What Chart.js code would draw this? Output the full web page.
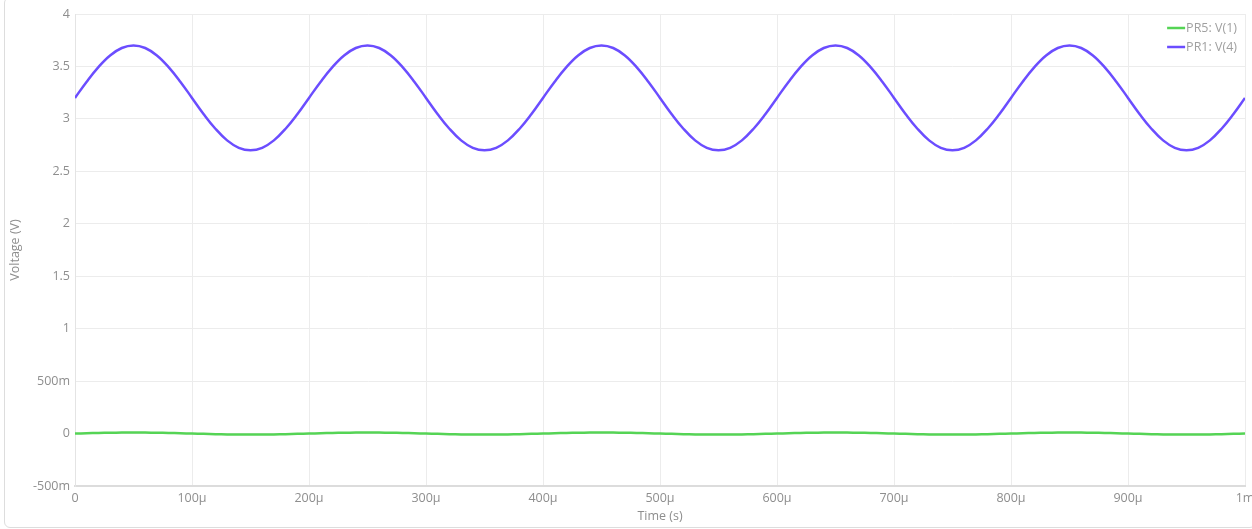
<!DOCTYPE html>
<html>
<head>
<meta charset="utf-8">
<script src="https://cdn.jsdelivr.net/npm/chart.js@4"></script>
<style>
  html, body { margin: 0; padding: 0; background: #fff; }
  #marco {
    position: absolute; left: 4px; top: -3px; width: 1252px; height: 531px;
    border: 1px solid #ddd; border-radius: 6px; box-sizing: border-box;
  }
  #lienzo { position: absolute; left: 0; top: 0; }
</style>
</head>
<body>
<div id="marco"></div>
<canvas id="lienzo" width="1252" height="529"></canvas>
<script>
// Tiempo en microsegundos
const tiempos = [0,10,20,30,40,50,60,70,80,90,100,110,120,130,140,150,160,170,180,190,
  200,210,220,230,240,250,260,270,280,290,300,310,320,330,340,350,360,370,380,390,
  400,410,420,430,440,450,460,470,480,490,500,510,520,530,540,550,560,570,580,590,
  600,610,620,630,640,650,660,670,680,690,700,710,720,730,740,750,760,770,780,790,
  800,810,820,830,840,850,860,870,880,890,900,910,920,930,940,950,960,970,980,990,1000];

// PR1: V(4)
const vPR1 = [3.2,3.355,3.494,3.605,3.676,3.7,3.676,3.605,3.494,3.355,3.2,3.045,2.906,2.795,2.724,2.7,2.724,2.795,2.906,3.045,
  3.2,3.355,3.494,3.605,3.676,3.7,3.676,3.605,3.494,3.355,3.2,3.045,2.906,2.795,2.724,2.7,2.724,2.795,2.906,3.045,
  3.2,3.355,3.494,3.605,3.676,3.7,3.676,3.605,3.494,3.355,3.2,3.045,2.906,2.795,2.724,2.7,2.724,2.795,2.906,3.045,
  3.2,3.355,3.494,3.605,3.676,3.7,3.676,3.605,3.494,3.355,3.2,3.045,2.906,2.795,2.724,2.7,2.724,2.795,2.906,3.045,
  3.2,3.355,3.494,3.605,3.676,3.7,3.676,3.605,3.494,3.355,3.2,3.045,2.906,2.795,2.724,2.7,2.724,2.795,2.906,3.045,3.2];

// PR5: V(1)
const vPR5 = [0,0.003,0.006,0.008,0.0095,0.01,0.0095,0.008,0.006,0.003,0,-0.003,-0.006,-0.008,-0.0095,-0.01,-0.0095,-0.008,-0.006,-0.003,
  0,0.003,0.006,0.008,0.0095,0.01,0.0095,0.008,0.006,0.003,0,-0.003,-0.006,-0.008,-0.0095,-0.01,-0.0095,-0.008,-0.006,-0.003,
  0,0.003,0.006,0.008,0.0095,0.01,0.0095,0.008,0.006,0.003,0,-0.003,-0.006,-0.008,-0.0095,-0.01,-0.0095,-0.008,-0.006,-0.003,
  0,0.003,0.006,0.008,0.0095,0.01,0.0095,0.008,0.006,0.003,0,-0.003,-0.006,-0.008,-0.0095,-0.01,-0.0095,-0.008,-0.006,-0.003,
  0,0.003,0.006,0.008,0.0095,0.01,0.0095,0.008,0.006,0.003,0,-0.003,-0.006,-0.008,-0.0095,-0.01,-0.0095,-0.008,-0.006,-0.003,0];

// Etiquetas de los ejes
const ticksX = [0,100,200,300,400,500,600,700,800,900,1000];
const etiquetasX = ["0","100µ","200µ","300µ","400µ","500µ","600µ","700µ","800µ","900µ","1m"];
const ticksY = [-0.5,0,0.5,1,1.5,2,2.5,3,3.5,4];
const etiquetasY = ["-500m","0","500m","1","1.5","2","2.5","3","3.5","4"];

const series = [
  { nombre: "PR5: V(1)", valores: vPR5, color: "#55d455" },
  { nombre: "PR1: V(4)", valores: vPR1, color: "#6b4dff" }
];

const fuente = { family: "'Open Sans', sans-serif", size: 12.5 };
const gris = "#8e8e8e";

// Leyenda dentro del area, arriba a la derecha
const leyendaPlugin = {
  id: "leyenda",
  afterDraw(chart) {
    const ctx = chart.ctx;
    const area = chart.chartArea;
    ctx.save();
    ctx.font = "12.5px 'Open Sans', sans-serif";
    ctx.textBaseline = "middle";
    series.forEach((s, i) => {
      const y = area.top + 14 + i * 19;
      const w = ctx.measureText(s.nombre).width;
      const xTexto = area.right - 8 - w;
      ctx.strokeStyle = s.color;
      ctx.lineWidth = 2.5;
      ctx.beginPath();
      ctx.moveTo(xTexto - 19, y);
      ctx.lineTo(xTexto - 1, y);
      ctx.stroke();
      ctx.fillStyle = "#a0a0a0";
      ctx.fillText(s.nombre, xTexto, y);
    });
    ctx.restore();
  }
};

const ctx = document.getElementById("lienzo").getContext("2d");
new Chart(ctx, {
  type: "line",
  data: {
    datasets: series.map(s => ({
      label: s.nombre,
      data: tiempos.map((t, i) => ({ x: t, y: s.valores[i] })),
      borderColor: s.color,
      borderWidth: 2.5,
      pointRadius: 0,
      tension: 0.4,
      fill: false
    }))
  },
  options: {
    responsive: false,
    animation: false,
    layout: { padding: { top: 14, right: 7, left: 0, bottom: 0 } },
    plugins: { legend: { display: false }, tooltip: { enabled: false } },
    scales: {
      x: {
        type: "linear",
        min: 0,
        max: 1000,
        afterBuildTicks: s => { s.ticks = ticksX.map(v => ({ value: v })); },
        afterFit: s => { s.height = 43; s.paddingRight = 0; },
        ticks: {
          font: fuente, color: gris, padding: 5, maxRotation: 0,
          callback: v => etiquetasX[ticksX.indexOf(v)]
        },
        grid: { color: "#ececec", drawTicks: false },
        border: { color: "#dcdcdc", width: 2 },
        title: { display: true, text: "Time (s)", font: fuente, color: gris, padding: { top: 0, bottom: 5 } }
      },
      y: {
        type: "linear",
        min: -0.5,
        max: 4,
        afterBuildTicks: s => { s.ticks = ticksY.map(v => ({ value: v })); },
        afterFit: s => { s.width = 75; },
        ticks: {
          font: fuente, color: gris, padding: 5,
          callback: v => etiquetasY[ticksY.indexOf(v)]
        },
        grid: { color: "#ececec", drawTicks: false },
        border: { color: "#e4e4e4", width: 1 },
        title: { display: true, text: "Voltage (V)", font: fuente, color: gris, padding: { top: 8, bottom: 0 } }
      }
    }
  },
  plugins: [leyendaPlugin]
});
</script>
</body>
</html>
